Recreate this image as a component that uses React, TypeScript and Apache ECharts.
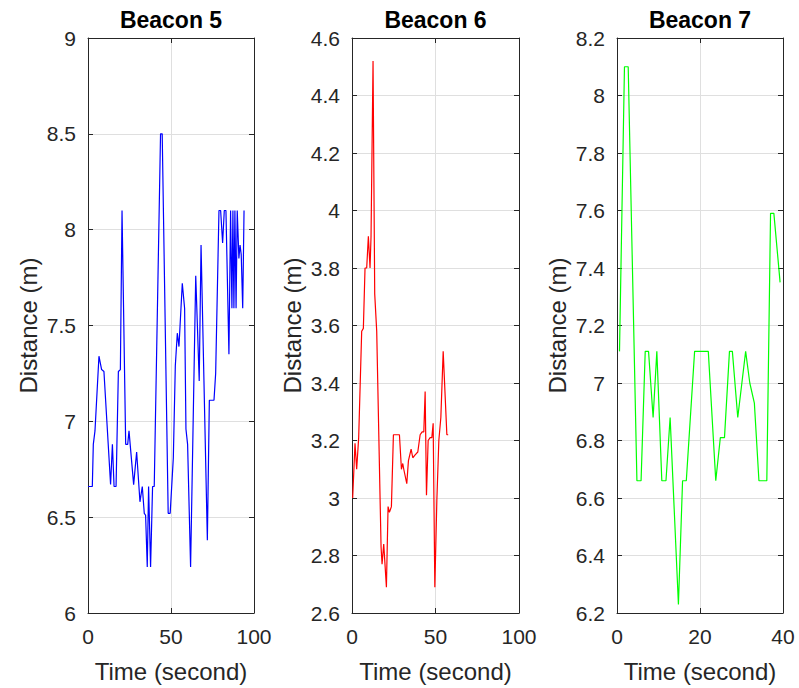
import React, { useEffect, useRef } from "react";
import * as echarts from "echarts";

// Beacon 5
const t1 = [0, 2.6, 3.2, 4.2, 6.6, 8.2, 9.6, 13.6, 14.7, 15.7, 16.9, 18.3, 19.5, 20.5, 22.7, 23.9, 24.7, 27.5, 29.3, 31.3, 32.7, 33.9, 34.7, 35.7, 36.5, 37.7, 38.9, 39.9, 43.7, 44.7, 48.3, 49.5, 51.4, 52.6, 53.8, 54.8, 56.8, 58.2, 59.0, 60.0, 61.8, 64.9, 67.0, 68.1, 71.9, 73.1, 75.9, 76.9, 78.9, 79.9, 81.1, 82.1, 83.1, 84.9, 85.9, 86.7, 87.3, 87.9, 88.5, 89.2, 89.9, 90.9, 91.6, 92.3, 93.2, 94.0];
const v1 = [6.66, 6.66, 6.88, 6.95, 7.34, 7.27, 7.26, 6.67, 6.88, 6.66, 6.66, 7.26, 7.27, 8.10, 6.88, 6.88, 6.95, 6.67, 6.84, 6.58, 6.66, 6.52, 6.51, 6.24, 6.66, 6.24, 6.66, 6.66, 8.50, 8.50, 6.52, 6.52, 6.81, 7.29, 7.46, 7.39, 7.72, 7.59, 6.96, 6.88, 6.24, 7.76, 7.21, 7.92, 6.38, 7.11, 7.11, 7.25, 8.10, 8.10, 7.93, 8.10, 8.10, 7.35, 8.10, 7.59, 8.10, 7.59, 8.10, 7.59, 8.10, 7.85, 7.92, 7.87, 7.59, 8.10];

// Beacon 6
const t2 = [0.4, 1.8, 2.8, 4.0, 5.8, 6.8, 7.8, 8.8, 9.8, 10.8, 11.4, 12.6, 13.6, 14.8, 17.4, 18.0, 19.0, 20.6, 21.6, 22.4, 23.6, 24.8, 26.8, 28.4, 29.6, 30.4, 31.0, 32.8, 33.8, 35.4, 36.4, 37.8, 39.4, 40.8, 42.0, 43.0, 43.8, 44.6, 45.6, 46.8, 47.8, 48.6, 49.6, 50.8, 52.0, 53.2, 54.6, 56.8, 57.6];
const v2 = [3.00, 3.19, 3.10, 3.21, 3.58, 3.59, 3.80, 3.80, 3.91, 3.80, 3.91, 4.52, 3.71, 3.58, 2.83, 2.77, 2.84, 2.69, 2.97, 2.95, 2.97, 3.22, 3.22, 3.22, 3.10, 3.12, 3.10, 3.05, 3.13, 3.17, 3.14, 3.15, 3.16, 3.22, 3.23, 3.23, 3.37, 3.01, 3.20, 3.21, 3.21, 3.26, 2.69, 2.99, 3.20, 3.28, 3.51, 3.22, 3.22];

// Beacon 7
const t3 = [0.6, 1.8, 2.7, 4.8, 5.8, 6.8, 7.6, 8.7, 9.6, 10.8, 11.8, 12.8, 14.8, 15.8, 16.7, 18.7, 22.0, 23.8, 24.9, 25.9, 27.1, 27.8, 29.1, 31.0, 32.0, 33.1, 34.2, 36.1, 37.0, 37.8, 39.3];
const v3 = [7.11, 8.10, 8.10, 6.66, 6.66, 7.11, 7.11, 6.88, 7.11, 6.66, 6.66, 6.88, 6.23, 6.66, 6.66, 7.11, 7.11, 6.66, 6.81, 6.81, 7.11, 7.11, 6.88, 7.11, 7.0, 6.93, 6.66, 6.66, 7.59, 7.59, 7.35];

const titles = ["Beacon 5", "Beacon 6", "Beacon 7"];
const xRanges = [
  { min: 0, max: 100, interval: 50 },
  { min: 0, max: 100, interval: 50 },
  { min: 0, max: 40, interval: 20 },
];
const yRanges = [
  { min: 6, max: 9, interval: 0.5 },
  { min: 2.6, max: 4.6, interval: 0.2 },
  { min: 6.2, max: 8.2, interval: 0.2 },
];
const colors = ["#0000ff", "#ff0000", "#00ff00"];
const xLabel = "Time (second)";
const yLabel = "Distance (m)";

const FONT = "'Liberation Sans', Arial, Helvetica, sans-serif";
const AXIS_COLOR = "#262626";
const GRID_COLOR = "#dfdfdf";

const zip = (a: number[], b: number[]) => a.map((x, i) => [x, b[i]]);

export default function App() {
  const ref = useRef<HTMLDivElement>(null);
  useEffect(() => {
    document.body.style.margin = "0";
    if (!ref.current) return;
    const chart = echarts.init(ref.current, null, { renderer: "svg" });
    const lefts = [88, 352, 617];
    const widths = [166, 167, 166];
    const top = 38;
    const height = 577;
    const grids = lefts.map((l, i) => ({ left: l, top, width: widths[i], height }));
    const xAxes: any[] = [];
    const yAxes: any[] = [];
    const series: any[] = [];
    const datas = [zip(t1, v1), zip(t2, v2), zip(t3, v3)];
    for (let i = 0; i < 3; i++) {
      xAxes.push({
        type: "value",
        gridIndex: i,
        position: "bottom",
        ...xRanges[i],
        name: xLabel,
        nameLocation: "middle",
        nameGap: 46,
        nameTextStyle: { color: AXIS_COLOR, fontSize: 24, fontFamily: FONT },
        axisLine: { show: true, onZero: false, lineStyle: { color: AXIS_COLOR, width: 1 } },
        axisTick: { show: true, inside: true, length: 5, lineStyle: { color: AXIS_COLOR } },
        axisLabel: { color: AXIS_COLOR, fontSize: 21, fontFamily: FONT, margin: 13 },
        splitLine: { show: true, lineStyle: { color: GRID_COLOR, width: 1 } },
      });
      xAxes.push({
        type: "value",
        gridIndex: i,
        position: "top",
        ...xRanges[i],
        axisLine: { show: true, onZero: false, lineStyle: { color: AXIS_COLOR, width: 1 } },
        axisTick: { show: true, inside: true, length: 5, lineStyle: { color: AXIS_COLOR } },
        axisLabel: { show: false },
        splitLine: { show: false },
      });
      yAxes.push({
        type: "value",
        gridIndex: i,
        position: "left",
        ...yRanges[i],
        name: yLabel,
        nameLocation: "middle",
        nameGap: 48,
        nameTextStyle: { color: AXIS_COLOR, fontSize: 24, fontFamily: FONT },
        axisLine: { show: true, onZero: false, lineStyle: { color: AXIS_COLOR, width: 1 } },
        axisTick: { show: true, inside: true, length: 5, lineStyle: { color: AXIS_COLOR } },
        axisLabel: { color: AXIS_COLOR, fontSize: 21, fontFamily: FONT, margin: 12 },
        splitLine: { show: true, lineStyle: { color: GRID_COLOR, width: 1 } },
      });
      yAxes.push({
        type: "value",
        gridIndex: i,
        position: "right",
        ...yRanges[i],
        axisLine: { show: true, onZero: false, lineStyle: { color: AXIS_COLOR, width: 1 } },
        axisTick: { show: true, inside: true, length: 5, lineStyle: { color: AXIS_COLOR } },
        axisLabel: { show: false },
        splitLine: { show: false },
      });
      series.push({
        type: "line",
        name: titles[i],
        xAxisIndex: i * 2,
        yAxisIndex: i * 2,
        data: datas[i],
        showSymbol: false,
        lineStyle: { color: colors[i], width: 1.2 },
        itemStyle: { color: colors[i] },
      });
    }
    chart.setOption({
      animation: false,
      backgroundColor: "#ffffff",
      title: titles.map((t, i) => ({
        text: t,
        left: lefts[i] + widths[i] / 2,
        top: 8,
        textAlign: "center",
        padding: 0,
        textStyle: { color: "#000000", fontSize: 23, fontWeight: "bold", fontFamily: FONT },
      })),
      grid: grids,
      xAxis: xAxes,
      yAxis: yAxes,
      series,
    });
    return () => chart.dispose();
  }, []);
  return <div ref={ref} style={{ width: 799, height: 688 }} />;
}
